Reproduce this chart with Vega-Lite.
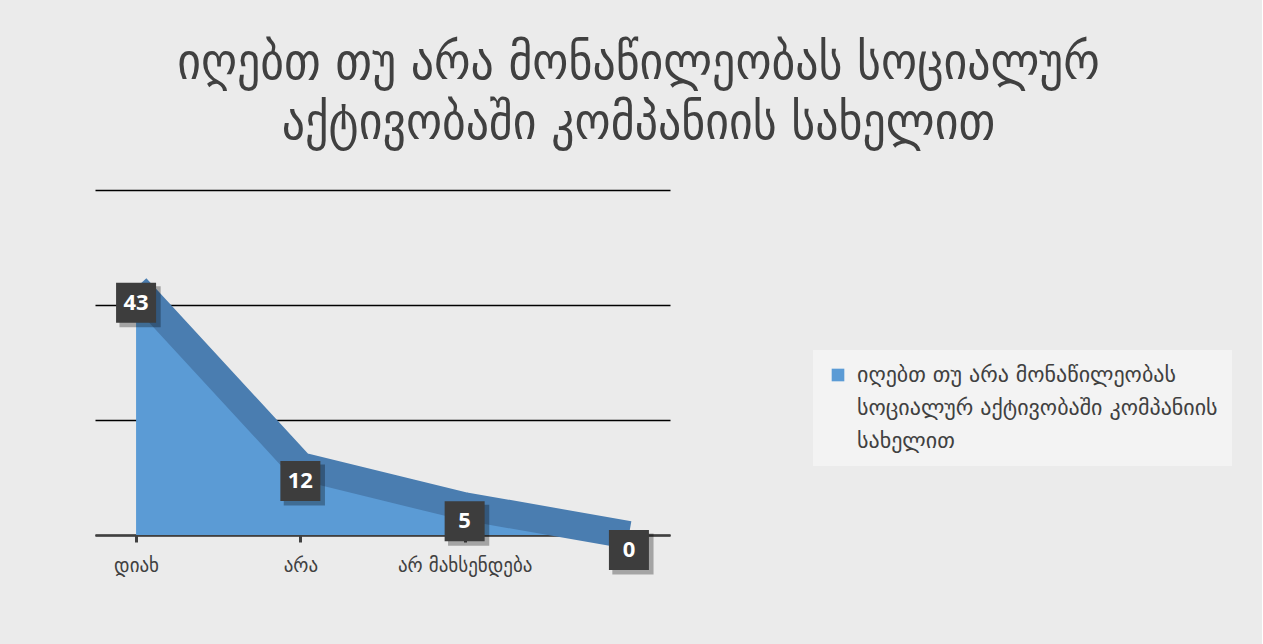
{
  "$schema": "https://vega.github.io/schema/vega-lite/v6.json",
  "width": 575,
  "height": 345,
  "padding": {"left": 95, "top": 38, "right": 30, "bottom": 71},
  "background": "#ebebeb",
  "config": {"view": {"stroke": null}},
  "title": {
    "text": ["იღებთ თუ არა მონაწილეობას სოციალურ", "აქტივობაში კომპანიის სახელით"],
    "font": "DejaVu Sans Condensed",
    "fontSize": 51,
    "fontWeight": "normal",
    "color": "#404040",
    "anchor": "middle",
    "frame": "bounds",
    "lineHeight": 60,
    "offset": 40,
    "dx": -25
  },
  "data": {
    "values": [
      {"category": "დიახ", "value": 43, "series": "იღებთ თუ არა მონაწილეობას სოციალურ აქტივობაში კომპანიის სახელით"},
      {"category": "არა", "value": 12, "series": "იღებთ თუ არა მონაწილეობას სოციალურ აქტივობაში კომპანიის სახელით"},
      {"category": "არ მახსენდება", "value": 5, "series": "იღებთ თუ არა მონაწილეობას სოციალურ აქტივობაში კომპანიის სახელით"},
      {"category": " ", "value": 0, "series": "იღებთ თუ არა მონაწილეობას სოციალურ აქტივობაში კომპანიის სახელით"}
    ]
  },
  "encoding": {
    "x": {
      "field": "category",
      "type": "nominal",
      "sort": ["დიახ", "არა", "არ მახსენდება", " "],
      "scale": {"type": "point", "padding": 0.25},
      "axis": {
        "title": null,
        "labelAngle": 0,
        "labelFont": "DejaVu Sans",
        "labelFontSize": 19,
        "labelColor": "#404040",
        "labelPadding": 14,
        "domainColor": "#404040",
        "domainWidth": 2.5,
        "tickColor": "#404040",
        "tickWidth": 3,
        "tickSize": 7,
        "grid": false
      }
    },
    "y": {
      "field": "value",
      "type": "quantitative",
      "scale": {"domain": [0, 60]},
      "axis": {
        "title": null,
        "labels": false,
        "ticks": false,
        "domain": false,
        "grid": true,
        "gridColor": "#000000",
        "gridWidth": 1.5,
        "values": [0, 20, 40, 60]
      }
    }
  },
  "layer": [
    {
      "mark": {"type": "area", "opacity": 1},
      "encoding": {
        "color": {
          "field": "series",
          "type": "nominal",
          "scale": {"range": ["#5b9bd5"]},
          "legend": {
            "title": null,
            "orient": "none",
            "legendX": 718,
            "legendY": 160,
            "symbolType": "square",
            "symbolSize": 160,
            "symbolStrokeWidth": 0,
            "labelFont": "DejaVu Sans",
            "labelFontSize": 22,
            "labelColor": "#404040",
            "labelLimit": 0,
            "labelOffset": 8,
            "labelExpr": "['იღებთ თუ არა მონაწილეობას', 'სოციალურ აქტივობაში კომპანიის', 'სახელით']",
            "fillColor": "#f3f3f3",
            "padding": 14,
            "encoding": {"labels": {"lineHeight": {"value": 33}}}
          }
        }
      }
    },
    {
      "mark": {"type": "line", "color": "#4a7db0", "strokeWidth": 28, "strokeJoin": "round", "strokeCap": "butt"}
    },
    {
      "mark": {"type": "point", "shape": "square", "size": 1700, "filled": true, "color": "#000000", "opacity": 0.3, "xOffset": 4, "yOffset": 19}
    },
    {
      "mark": {"type": "point", "shape": "square", "size": 1600, "filled": true, "color": "#3d3d3d", "opacity": 1, "yOffset": 15}
    },
    {
      "mark": {"type": "text", "color": "#ffffff", "fontWeight": "bold", "fontSize": 22, "font": "Open Sans", "yOffset": 15},
      "encoding": {"text": {"field": "value", "type": "quantitative"}}
    }
  ]
}
